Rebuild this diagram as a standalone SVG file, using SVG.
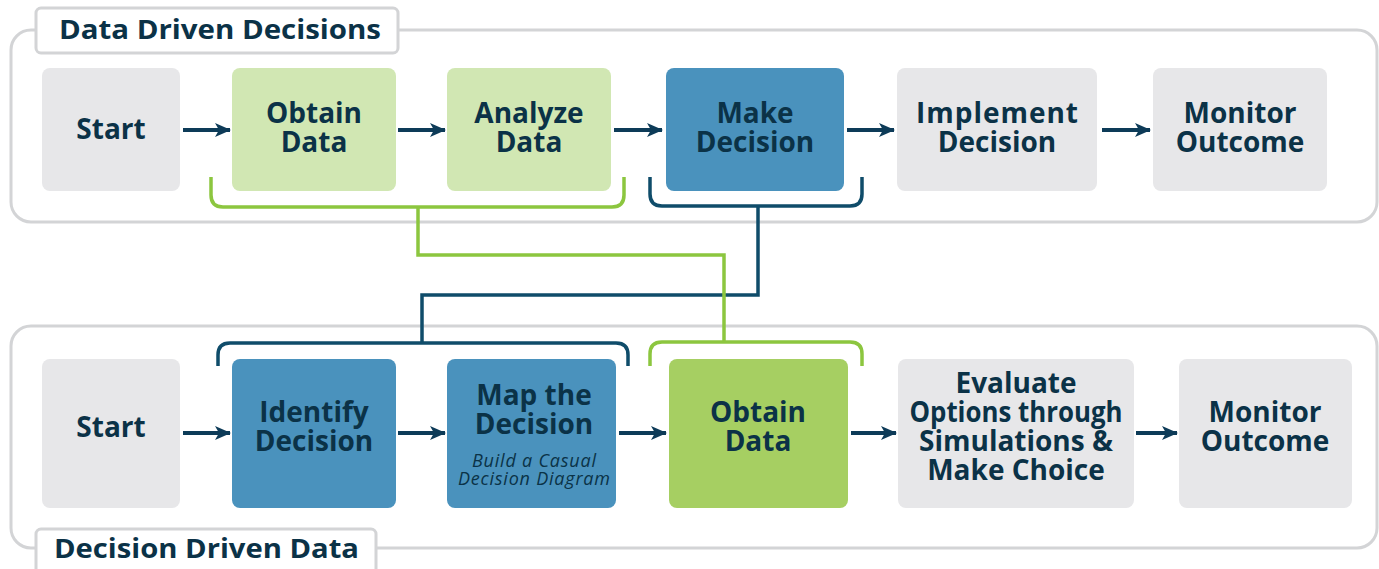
<svg xmlns="http://www.w3.org/2000/svg" width="1379" height="569" viewBox="0 0 1379 569">
<defs>
<marker id="ah" viewBox="0 0 16 14" refX="15" refY="7" markerWidth="16" markerHeight="14" markerUnits="userSpaceOnUse" orient="auto">
<path d="M0,0 L16,7 L0,14 L4,7 z" fill="#0d3b58"/>
</marker>
<style>
.cont{fill:#ffffff;stroke:#d3d4d6;stroke-width:3}
.lab{fill:#ffffff;stroke:#d3d4d6;stroke-width:3}
.gray{fill:#e7e7e9}
.lg{fill:#d1e7b3}
.blue{fill:#4a92bd}
.bg{fill:#a6cf62}
.t{font-family:"Open Sans","Liberation Sans",sans-serif;font-weight:700;fill:#0b3247;text-anchor:middle;font-size:28px}
.ti{font-family:"Open Sans","Liberation Sans",sans-serif;font-style:italic;font-weight:400;fill:#0b3247;text-anchor:middle;font-size:18px}
.tt{font-family:"Open Sans","Liberation Sans",sans-serif;font-weight:700;fill:#0b3247;font-size:26px}
.arr{stroke:#0d3b58;stroke-width:4;fill:none;marker-end:url(#ah)}
.gl{stroke:#8cc63f;stroke-width:3.5;fill:none}
.nl{stroke:#0f4c6a;stroke-width:3.5;fill:none}
</style>
</defs>
<g id="containers">
<rect class="cont" x="11" y="30" width="1366" height="192" rx="20"/>
<rect class="cont" x="11" y="326" width="1366" height="222" rx="20"/>
</g>
<g id="label-top">
<rect class="lab" x="36" y="8" width="362" height="45" rx="5"/>
<text class="tt" x="59" y="39" textLength="322" lengthAdjust="spacingAndGlyphs">Data Driven Decisions</text>
</g>
<g id="label-bottom">
<rect class="lab" x="36" y="529" width="340" height="60" rx="5"/>
<text class="tt" x="54" y="558" textLength="305" lengthAdjust="spacingAndGlyphs">Decision Driven Data</text>
</g>
<g id="top-start"><rect class="gray" x="42" y="68" width="138" height="123" rx="8"/><text class="t" x="111" y="139">Start</text></g>
<g id="top-obtain"><rect class="lg" x="232" y="68" width="164" height="123" rx="8"/><text class="t" x="314" y="123">Obtain</text><text class="t" x="314" y="152">Data</text></g>
<g id="top-analyze"><rect class="lg" x="447" y="68" width="164" height="123" rx="8"/><text class="t" x="529" y="123">Analyze</text><text class="t" x="529" y="152">Data</text></g>
<g id="top-make"><rect class="blue" x="666" y="68" width="178" height="123" rx="8"/><text class="t" x="755" y="123">Make</text><text class="t" x="755" y="152">Decision</text></g>
<g id="top-implement"><rect class="gray" x="897" y="68" width="200" height="123" rx="8"/><text class="t" x="997" y="123" textLength="162" lengthAdjust="spacing">Implement</text><text class="t" x="997" y="152">Decision</text></g>
<g id="top-monitor"><rect class="gray" x="1153" y="68" width="174" height="123" rx="8"/><text class="t" x="1240" y="123">Monitor</text><text class="t" x="1240" y="152">Outcome</text></g>
<g id="bot-start"><rect class="gray" x="42" y="359" width="138" height="149" rx="8"/><text class="t" x="111" y="437">Start</text></g>
<g id="bot-identify"><rect class="blue" x="232" y="359" width="164" height="149" rx="8"/><text class="t" x="314" y="422">Identify</text><text class="t" x="314" y="451">Decision</text></g>
<g id="bot-map"><rect class="blue" x="447" y="359" width="169" height="149" rx="8"/><text class="t" x="534" y="405">Map the</text><text class="t" x="534" y="434">Decision</text><text class="ti" x="534" y="467" textLength="124" lengthAdjust="spacing">Build a Casual</text><text class="ti" x="534" y="485" textLength="152" lengthAdjust="spacing">Decision Diagram</text></g>
<g id="bot-obtain"><rect class="bg" x="669" y="359" width="179" height="149" rx="8"/><text class="t" x="758" y="422">Obtain</text><text class="t" x="758" y="451">Data</text></g>
<g id="bot-evaluate"><rect class="gray" x="898" y="359" width="236" height="149" rx="8"/><text class="t" x="1016" y="393">Evaluate</text><text class="t" x="1016" y="422" textLength="213" lengthAdjust="spacingAndGlyphs">Options through</text><text class="t" x="1016" y="451">Simulations &amp;</text><text class="t" x="1016" y="480">Make Choice</text></g>
<g id="bot-monitor"><rect class="gray" x="1179" y="359" width="173" height="149" rx="8"/><text class="t" x="1265" y="422">Monitor</text><text class="t" x="1265" y="451">Outcome</text></g>
<g id="connectors">
<line class="arr" x1="183" y1="130" x2="230" y2="130"/>
<line class="arr" x1="398" y1="130" x2="445" y2="130"/>
<line class="arr" x1="614" y1="130" x2="662" y2="130"/>
<line class="arr" x1="847" y1="130" x2="894" y2="130"/>
<line class="arr" x1="1102" y1="130" x2="1150" y2="130"/>
<line class="arr" x1="183" y1="433" x2="230" y2="433"/>
<line class="arr" x1="398" y1="433" x2="445" y2="433"/>
<line class="arr" x1="619" y1="433" x2="666" y2="433"/>
<line class="arr" x1="851" y1="433" x2="896" y2="433"/>
<line class="arr" x1="1136" y1="433" x2="1177" y2="433"/>
<path class="nl" d="M650,177 V194 Q650,206 662,206 H850 Q862,206 862,194 V177"/>
<path class="nl" d="M758,206 V295 H422 V343"/>
<path class="nl" d="M218,366 V355 Q218,343 230,343 H616 Q628,343 628,355 V366"/>
<path class="gl" d="M211,177 V195 Q211,207 223,207 H612 Q624,207 624,195 V177"/>
<path class="gl" d="M418,207 V255 H724 V342"/>
<path class="gl" d="M650,366 V354 Q650,342 662,342 H850 Q862,342 862,354 V366"/>
</g>
</svg>
